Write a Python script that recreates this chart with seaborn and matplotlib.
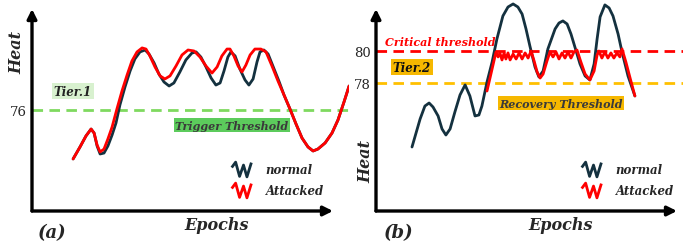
import matplotlib
matplotlib.use("Agg")
import matplotlib.pyplot as plt
import seaborn as sns
from matplotlib.lines import Line2D
from matplotlib.path import Path

# ---- panel (a): trigger threshold ----
a_normal_x = [13.7, 16, 18, 19.7, 20.7, 21.7, 22.7, 24, 25.3, 26.7, 28, 29.3, 31, 32.7, 34.3, 36,
              37.7, 39, 40.7, 42.3, 44, 45.7, 47.3, 49.3, 51.3, 53.3, 54.7, 56.3, 58, 59.7, 61.3,
              62.7, 64, 65.3, 66.3, 67.7, 69.3, 71, 72.3, 73.7, 75, 76, 77.3, 78.7, 80.3, 82.3,
              84, 86, 88, 90, 92, 93.7, 95.3, 97.7, 100, 102, 104, 105.7]
a_normal_y = [72.94, 73.69, 74.38, 74.81, 74.56, 73.75, 73.25, 73.31, 73.75, 74.44, 75.19, 76.31,
              77.44, 78.44, 79.19, 79.63, 79.75, 79.5, 78.94, 78.25, 77.75, 77.5, 77.69, 78.38,
              79.13, 79.56, 79.63, 79.31, 78.69, 78.0, 77.56, 77.69, 78.44, 79.31, 79.63, 79.38,
              78.56, 77.88, 77.56, 77.94, 79.0, 79.63, 79.75, 79.5, 78.75, 77.81, 76.94, 76.06,
              75.13, 74.25, 73.69, 73.44, 73.56, 73.94, 74.56, 75.38, 76.5, 77.5]
a_attack_x = [13.7, 16, 18, 19.7, 20.7, 21.7, 22.7, 24, 25.3, 26.7, 28.3, 30, 31.7, 33.3, 35, 36.7,
              38, 39.3, 41, 42.7, 44.3, 46, 48, 50, 52, 54, 56, 58, 60, 61.7, 63.3, 65, 66, 67.3,
              68.7, 70, 71.3, 72.7, 74.3, 76.3, 78, 80, 82, 84, 86, 88, 90, 92, 93.7, 95.3, 97.7,
              100, 102, 104, 105.7]
a_attack_y = [72.94, 73.69, 74.38, 74.81, 74.56, 73.81, 73.38, 73.56, 74.19, 74.94, 76.06, 77.19,
              78.19, 79.06, 79.63, 79.88, 79.81, 79.38, 78.69, 78.13, 77.94, 78.13, 78.75, 79.44,
              79.75, 79.69, 79.31, 78.75, 78.31, 78.69, 79.38, 79.81, 79.81, 79.38, 78.75, 78.38,
              78.81, 79.44, 79.81, 79.81, 79.63, 78.75, 77.81, 76.94, 76.06, 75.13, 74.25, 73.69,
              73.44, 73.56, 73.94, 74.56, 75.38, 76.5, 77.5]
a_trigger = 76

# ---- panel (b): critical / recovery thresholds ----
b_normal_x = [12, 14.7, 16.3, 17.7, 19, 20.7, 22, 23.3, 24.7, 26.3, 28, 29.7, 31.3, 33, 34.3, 35.3,
              37, 38.7, 40.3, 42.3, 44, 45.7, 47.3, 48.7, 50, 51.3, 53, 54.3, 55.7, 57.3, 59.7,
              61, 62.3, 63.7, 65, 66.3, 68, 69.7, 71.3, 72.7, 73.7, 74.7, 76.3, 77.7, 79, 80.7,
              82, 84, 86.3]
b_normal_y = [74.0, 75.75, 76.56, 76.75, 76.5, 75.94, 75.13, 74.75, 75.13, 76.19, 77.25, 77.88,
              77.19, 75.94, 76.0, 76.56, 78.06, 79.31, 80.75, 82.19, 82.75, 82.94, 82.75, 82.31,
              81.38, 80.31, 79.0, 78.38, 78.75, 80.13, 81.38, 81.75, 81.88, 81.69, 81.06, 80.25,
              79.19, 78.44, 78.19, 79.19, 80.75, 82.13, 82.88, 82.69, 82.19, 81.06, 79.94, 78.44,
              77.19]
b_attack_x = [37, 38.7, 40, 40.7, 41.3, 42, 42.7, 43.3, 44, 44.7, 45.7, 46.7, 47.7, 48.7, 49.7,
              50.7, 51.7, 52.7, 53.7, 54.7, 55.7, 57, 58, 59, 60, 61, 62, 63, 64, 65, 66, 67,
              68.3, 69.7, 71.3, 72.7, 73.7, 74.3, 75.3, 76.3, 77.3, 78.3, 79.3, 80.3, 81.3, 82,
              83.3, 84.7, 86.3]
b_attack_y = [77.5, 78.88, 79.94, 79.63, 79.88, 79.44, 79.88, 79.5, 79.88, 79.44, 79.81, 79.5,
              79.88, 79.5, 79.88, 79.56, 80.0, 79.38, 78.69, 78.31, 78.56, 79.38, 79.94, 79.63,
              79.94, 79.5, 79.88, 79.56, 79.94, 79.56, 79.94, 80.06, 79.31, 78.56, 78.19, 78.75,
              79.75, 80.0, 79.56, 79.94, 79.56, 79.88, 79.56, 79.88, 79.63, 80.13, 79.31, 78.31,
              77.19]
b_critical = 80
b_recovery = 78

NAVY = "#14313f"
RED = "#ff0000"
GREEN = "#7fd95f"
ORANGE = "#ffc000"

sns.set_style("white")
plt.rcParams["font.family"] = ["DejaVu Serif"]

W, H = 689, 251
fig = plt.figure(figsize=(W / 100, H / 100), dpi=100)


def fx(x, y):
    return x / W, 1 - y / H


def axes_at(left, right, top, bottom):
    return fig.add_axes([left / W, 1 - bottom / H, (right - left) / W, (bottom - top) / H])


bold_it = dict(fontweight="bold", fontstyle="italic", family="DejaVu Serif")

# zig-zag marker for the legend (wider than tall)
squiggle = Path([(-1.2, 0.2), (-0.8, 0.75), (-0.4, -0.7), (0.0, 0.45), (0.35, -0.75), (0.8, 0.7)],
                [Path.MOVETO] + [Path.LINETO] * 5)


def base(ax, xmax, ylo, yhi, x_arrow):
    ax.set_xlim(0, xmax)
    ax.set_ylim(ylo, yhi)
    for s in ax.spines.values():
        s.set_visible(False)
    ax.set_xticks([])
    ax.set_xlabel("")
    ax.set_ylabel("")
    ax.patch.set_alpha(0)
    top = (212 - 10) / 210
    ax.annotate("", xy=(0, top), xytext=(0, 0), xycoords="axes fraction",
                arrowprops=dict(arrowstyle="-|>", lw=2.4, color="black", mutation_scale=14,
                                shrinkA=0, shrinkB=0))
    ax.annotate("", xy=(x_arrow, 0), xytext=(0, 0), xycoords="axes fraction",
                arrowprops=dict(arrowstyle="-|>", lw=2.4, color="black", mutation_scale=14,
                                shrinkA=0, shrinkB=0))
    ax.tick_params(axis="y", length=0, pad=4, labelsize=9.5)


def legend(ax, x, y):
    handles = [Line2D([], [], color=NAVY, marker=squiggle, markersize=17, markeredgewidth=2,
                      markerfacecolor="none", linestyle="none"),
               Line2D([], [], color=RED, marker=squiggle, markersize=17, markeredgewidth=2,
                      markerfacecolor="none", linestyle="none")]
    ax.legend(handles, ["normal", "Attacked"], loc="upper left", bbox_to_anchor=fx(x, y),
              bbox_transform=fig.transFigure, frameon=False, handlelength=1.4,
              handletextpad=1.2, labelspacing=0.7, borderpad=0,
              prop=dict(family="DejaVu Serif", weight="bold", style="italic", size=8.5))


dash = (0, (3.8, 2.3))

# ---- panel (a) ----
ax1 = axes_at(32, 349, 2, 212)
sns.lineplot(x=a_normal_x, y=a_normal_y, ax=ax1, color=NAVY, lw=2.0, sort=False)
sns.lineplot(x=a_attack_x, y=a_attack_y, ax=ax1, color=RED, lw=2.0, sort=False)
ax1.axhline(a_trigger, color=GREEN, lw=2.0, linestyle=dash, zorder=1)
ax1.set_yticks([a_trigger])
base(ax1, (349 - 32) / 3, 69.6875, 82.8125, (333 - 32) / (349 - 32))
legend(ax1, 229, 158)

# ---- panel (b) ----
ax2 = axes_at(376, 683, 2, 212)
sns.lineplot(x=b_normal_x, y=b_normal_y, ax=ax2, color=NAVY, lw=2.0, sort=False)
sns.lineplot(x=b_attack_x, y=b_attack_y, ax=ax2, color=RED, lw=2.0, sort=False)
ax2.axhline(b_critical, color=RED, lw=2.0, linestyle=dash, zorder=1)
ax2.axhline(b_recovery, color=ORANGE, lw=2.0, linestyle=dash, zorder=1)
ax2.set_yticks([b_critical, b_recovery])
base(ax2, (683 - 376) / 3, 70, 83.125, (677 - 376) / (683 - 376))
legend(ax2, 579, 158)

# ---- labels ----
fig.text(*fx(17, 52), "Heat", rotation=90, ha="center", va="center", size=11.5, **bold_it)
fig.text(*fx(366, 162), "Heat", rotation=90, ha="center", va="center", size=11.5, **bold_it)
fig.text(*fx(217, 226), "Epochs", ha="center", va="center", size=11.5, **bold_it)
fig.text(*fx(561, 226), "Epochs", ha="center", va="center", size=11.5, **bold_it)
fig.text(*fx(52, 233), "(a)", ha="center", va="center", size=13, **bold_it)
fig.text(*fx(399, 233), "(b)", ha="center", va="center", size=13, **bold_it)

fig.text(*fx(73, 92), "Tier.1", ha="center", va="center", size=8.5, color="#222222",
         bbox=dict(boxstyle="square,pad=0.15", fc="#d8f1cf", ec="none"), **bold_it)
fig.text(*fx(232, 126), "Trigger Threshold", ha="center", va="center", size=8, color="#3a3a3a",
         bbox=dict(boxstyle="square,pad=0.15", fc="#5ccb5c", ec="none"), **bold_it)
fig.text(*fx(412, 68), "Tier.2", ha="center", va="center", size=8.5, color="#111111",
         bbox=dict(boxstyle="square,pad=0.15", fc="#f6b800", ec="none"), **bold_it)
fig.text(*fx(561, 104), "Recovery Threshold", ha="center", va="center", size=8, color="#3a3a3a",
         bbox=dict(boxstyle="square,pad=0.15", fc="#f6b800", ec="none"), **bold_it)
fig.text(*fx(440, 42), "Critical threshold", ha="center", va="center", size=8, color=RED,
         **bold_it)

fig.savefig("out.png", dpi=100)
